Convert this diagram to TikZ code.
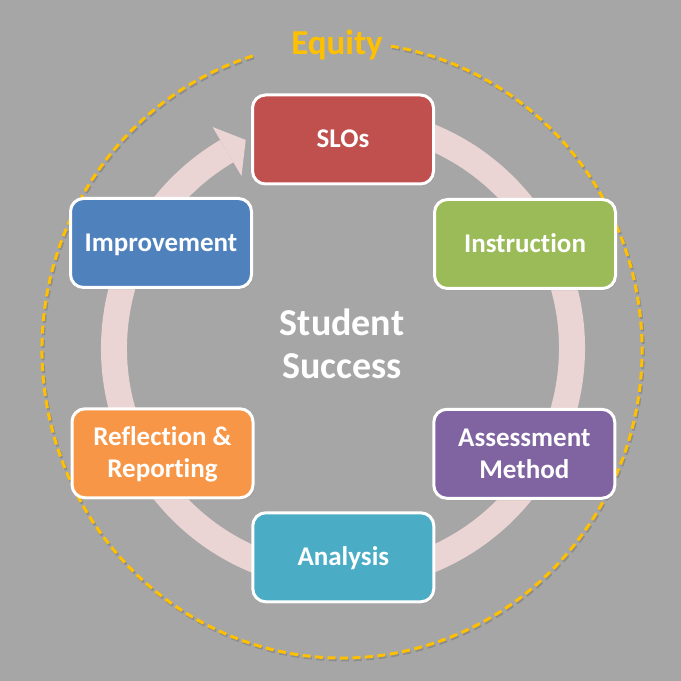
\documentclass[tikz,border=0pt]{standalone}
\usepackage{fontspec}
\setmainfont{Carlito}[RawFeature={-liga}]
\usetikzlibrary{calc,shadows}
\definecolor{bg}{HTML}{A6A6A6}
\definecolor{ringc}{HTML}{EAD4D4}
\definecolor{eq}{HTML}{FFC000}
\definecolor{cRed}{HTML}{C0504D}
\definecolor{cGreen}{HTML}{9BBB59}
\definecolor{cPurple}{HTML}{8064A2}
\definecolor{cTeal}{HTML}{4BACC6}
\definecolor{cOrange}{HTML}{F79646}
\definecolor{cBlue}{HTML}{4F81BD}
\begin{document}
\begin{tikzpicture}[x=1pt,y=1pt,
  box/.style={draw=white, line width=3pt, rounded corners=13pt,
    minimum width=181pt, minimum height=89pt, text=white,
    font=\fontsize{27}{32}\selectfont\bfseries, align=center, inner sep=0pt,
    text height=17pt, text depth=0pt,
    drop shadow={opacity=0.22, shadow xshift=1.5pt, shadow yshift=-2pt}},
  boxtwo/.style={box, text height=49pt},
  dashring/.style={line width=3pt, dash pattern=on 8pt off 4.5pt}]
\fill[bg] (0,0) rectangle (681,681);
\useasboundingbox (0,0) rectangle (681,681);
\coordinate (c) at (343,332.6);
\coordinate (e) at (342,331);
% dashed equity ellipse (shadow + line)
\draw[dashring, black, opacity=0.15] ($(e)+(1.2,-1.8)$) ++(107.3:300 and 308)
  arc[start angle=107.3, end angle=440.8, x radius=300, y radius=308];
\draw[dashring, eq] (e) ++(107.3:300 and 308)
  arc[start angle=107.3, end angle=440.8, x radius=300, y radius=308];
\node[font=\fontsize{35}{40}\selectfont\bfseries, text=eq, anchor=base, inner sep=0pt] (equity) at (337,626) {Equity};
% cycle arrow
\draw[ringc, line width=26pt] (c) ++(80:229) arc[start angle=80, end angle=-239.5, radius=229];
\fill[ringc] ($(c)+(120.5:200)$) -- ($(c)+(120.5:229)+(30.5:22)$) -- ($(c)+(120.5:257)$) -- cycle;
% boxes
\node[box, fill=cRed] (slo) at (343,541.5) {SLOs};
\node[box, fill=cGreen] (ins) at (525,437) {Instruction};
\node[boxtwo, fill=cPurple] (asm) at (524.3,227.2) {Assessment\\Method};
\node[box, fill=cTeal] (ana) at (343.3,123.7) {Analysis};
\node[boxtwo, fill=cOrange] (ref) at (162.5,227.7) {Reflection \&\\Reporting};
\node[box, fill=cBlue] (imp) at (161,438) {Improvement};
\node[text=white, font=\fontsize{38}{43}\selectfont\bfseries, align=center,
  text height=67pt, text depth=0pt, inner sep=0pt] (ss) at (342,336) {Student\\Success};
\end{tikzpicture}
\end{document}
